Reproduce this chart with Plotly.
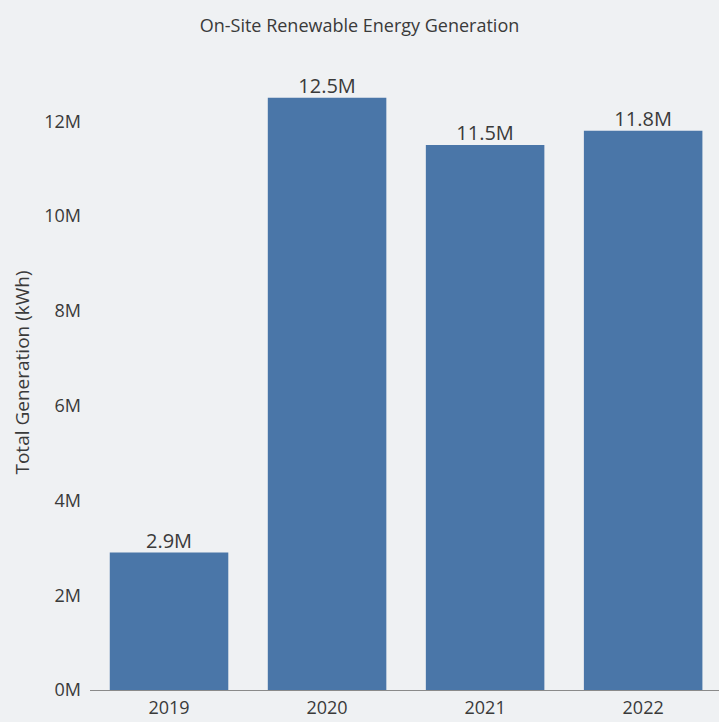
import plotly.graph_objects as go

# Annual on-site renewable generation, kWh (millions)
years = ["2019", "2020", "2021", "2022"]
generation_m = [2.9, 12.5, 11.5, 11.8]
tick_values = [0, 2, 4, 6, 8, 10, 12]
tick_labels = ["0M", "2M", "4M", "6M", "8M", "10M", "12M"]

bar_text = [f"{v:.1f}M" for v in generation_m]

TEXT = "#3a3a3a"
FONT = "Open Sans"

fig = go.Figure()

fig.add_trace(
    go.Bar(
        x=years,
        y=generation_m,
        marker=dict(color="#4a76a8", line=dict(width=0)),
        hoverinfo="x+y",
    )
)

# value labels sitting right on top of each bar
fig.add_trace(
    go.Scatter(
        x=years,
        y=generation_m,
        mode="text",
        text=bar_text,
        textposition="top center",
        cliponaxis=False,
        textfont=dict(family=FONT, size=20, color=TEXT),
        hoverinfo="skip",
    )
)

fig.update_layout(
    width=719,
    height=722,
    margin=dict(l=90, r=0, t=55, b=32),
    paper_bgcolor="#eff1f3",
    plot_bgcolor="#eff1f3",
    bargap=0.25,
    showlegend=False,
    font=dict(family=FONT, color=TEXT),
    title=dict(
        text="On-Site Renewable Energy Generation",
        x=0.5,
        xanchor="center",
        y=0.965,
        yanchor="middle",
        font=dict(family=FONT, size=18, color=TEXT),
    ),
    xaxis=dict(
        type="category",
        range=[-0.5, 3.48],
        showgrid=False,
        showline=True,
        linecolor="#8a8a8a",
        linewidth=1,
        ticks="",
        ticklabelstandoff=1,
        tickfont=dict(family=FONT, size=18, color=TEXT),
    ),
    yaxis=dict(
        range=[0, 13.4],
        tickvals=tick_values,
        ticktext=tick_labels,
        showgrid=False,
        zeroline=False,
        showline=False,
        ticks="",
        ticklabelstandoff=8,
        tickfont=dict(family=FONT, size=18, color=TEXT),
        title=dict(
            text="Total Generation (kWh)",
            standoff=9,
            font=dict(family=FONT, size=19, color=TEXT),
        ),
    ),
)

fig.write_html("out.html")
